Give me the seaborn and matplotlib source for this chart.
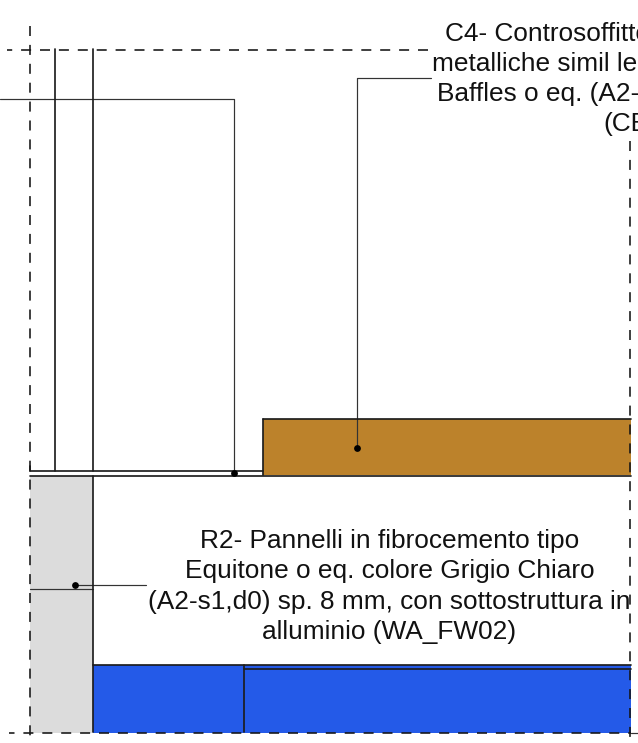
import pandas as pd
import matplotlib
matplotlib.use("Agg")
import matplotlib.pyplot as plt
import seaborn as sns

# =============================
# Data (drawing units = reference pixels)
# =============================
# filled areas: x start, x end, y top, y bottom
area_names = ["concrete", "baffles", "panel"]
area_x0 = [30, 263, 93]
area_x1 = [93, 630.5, 631]
area_top = [476, 419, 665]
area_bottom = [732.5, 475, 732.5]
area_colors = ["#DCDCDC", "#BC822B", "#245AE8"]

# solid lines, one list of x and y per line
solid_x = [
    [55, 55], [93, 93], [30, 30], [30, 263], [30, 631],
    [263, 631], [263, 263], [93, 631], [93, 93],
    [244, 244], [244, 631],
]
solid_y = [
    [49, 471], [49, 471], [466, 471], [471, 471], [475.5, 475.5],
    [419, 419], [419, 475], [665, 665], [476, 732],
    [665, 732], [669, 669],
]

# thin grey lines and leaders
thin_x = [[0, 233.5, 233.5], [357, 357, 431], [75, 146], [30, 93], [631, 638]]
thin_y = [[99, 99, 473], [448, 78, 78], [585, 585], [589, 589], [732.5, 732.5]]

# leader end dots
dot_x = [233.5, 357, 75]
dot_y = [473, 448, 585]

# dashed lines: x, y, phase in px
dash_x = [[7, 430], [30, 30], [629.5, 629.5], [9, 631]]
dash_y = [[49.5, 49.5], [26, 736], [141, 737], [732.5, 732.5]]
dash_phase = [4.8, 0, 0, 4.5]

# labels
label_text = ["C4- Controsoffitto", "metalliche simil leg", "Baffles o eq. (A2-", "(CE"]
label_x = [445, 432, 437, 603]
label_y = [34, 64, 94, 124]

r2_text = [
    "R2- Pannelli in fibrocemento tipo",
    "Equitone o eq. colore Grigio Chiaro",
    "(A2-s1,d0) sp. 8 mm, con sottostruttura in",
    "alluminio (WA_FW02)",
]
r2_x = [389.5, 389.5, 389.5, 389.5]
r2_y = [541, 571, 602, 632]

# =============================
# Plot
# =============================
sns.set_theme(style="white")
plt.rcParams["font.family"] = ["Liberation Sans", "DejaVu Sans"]
plt.rcParams["lines.scale_dashes"] = False

PX = 72 / 100
fig = plt.figure(figsize=(6.38, 7.43), dpi=100)
ax = fig.add_axes([0, 0, 1, 1])


def draw_line(xs, ys, color, width, z, style="-"):
    # one polyline through seaborn, keeping the given point order
    line = pd.DataFrame({"x": xs, "y": ys})
    sns.lineplot(
        data=line, x="x", y="y", estimator=None, sort=False,
        color=color, linewidth=width * PX, linestyle=style, ax=ax, zorder=z,
        legend=False,
    )


for x0, x1, top, bottom, col in zip(area_x0, area_x1, area_top, area_bottom, area_colors):
    ax.fill_between([x0, x1], [top, top], [bottom, bottom], color=col, linewidth=0, zorder=1)

for xs, ys in zip(thin_x, thin_y):
    draw_line(xs, ys, "#333333", 1.2, 2)

for xs, ys in zip(solid_x, solid_y):
    draw_line(xs, ys, "#1C1C1C", 1.7, 3)

for xs, ys, phase in zip(dash_x, dash_y, dash_phase):
    draw_line(xs, ys, "#151515", 1.6, 4, style=(phase * PX, (10 * PX, 8.9 * PX)))

sns.scatterplot(x=dot_x, y=dot_y, color="black", s=24, linewidth=0, ax=ax, zorder=5)

for t, x, y in zip(label_text, label_x, label_y):
    ax.text(x, y, t, ha="left", va="center", fontsize=18.9, color="#111111", zorder=6)
for t, x, y in zip(r2_text, r2_x, r2_y):
    ax.text(x, y, t, ha="center", va="center", fontsize=18.9, color="#111111", zorder=6)

ax.set_xlim(0, 638)
ax.set_ylim(743, 0)
ax.axis("off")

plt.savefig("out.png", dpi=100)
